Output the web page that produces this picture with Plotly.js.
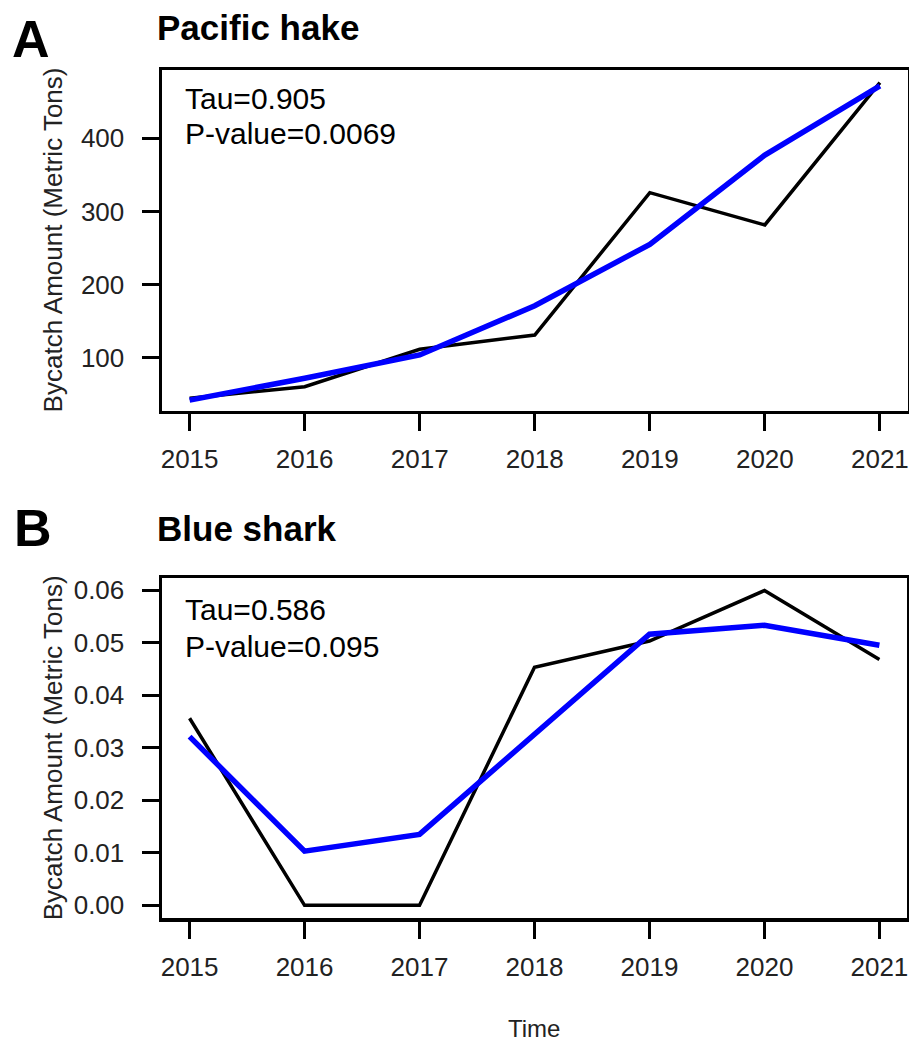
<!DOCTYPE html>
<html>
<head>
<meta charset="utf-8">
<script src="https://cdn.plot.ly/plotly-3.0.1.min.js"></script>
<style>html,body{margin:0;padding:0;background:#fff;}#chart{width:909px;height:1041px;}</style>
</head>
<body>
<div id="chart"></div>
<script>
// ---- data ----
const years = [2015, 2016, 2017, 2018, 2019, 2020, 2021];
const hakeObserved = [44.5, 60.3, 111.5, 131, 325.7, 281.5, 476];
const hakeSmoothed = [42, 71.8, 103.7, 171, 255, 377, 471.7];
const sharkObserved = [0.0356, 0, 0, 0.0453, 0.0503, 0.0599, 0.0468];
const sharkSmoothed = [0.0321, 0.0103, 0.0135, 0.0325, 0.0516, 0.0533, 0.0495];
const hakeYTicks = [100, 200, 300, 400];
const sharkYTicks = [0, 0.01, 0.02, 0.03, 0.04, 0.05, 0.06];
const panelTitles = ["Pacific hake", "Blue shark"];
const panelLetters = ["A", "B"];
const statLines = [["Tau=0.905", "P-value=0.0069"], ["Tau=0.586", "P-value=0.095"]];
const yTitle = "Bycatch Amount (Metric Tons)";
const xTitle = "Time";

// ---- layout helpers ----
const W = 909, H = 1041;
const px = x => x / W;
const py = y => 1 - y / H;
const FONT = "Liberation Sans, Arial, Helvetica, sans-serif";

const traces = [
  {x: years, y: hakeObserved, xaxis: 'x', yaxis: 'y', mode: 'lines', line: {color: '#000', width: 3.5}, hoverinfo: 'skip'},
  {x: years, y: hakeSmoothed, xaxis: 'x', yaxis: 'y', mode: 'lines', line: {color: '#0000ff', width: 5.5}, hoverinfo: 'skip'},
  {x: years, y: sharkObserved, xaxis: 'x2', yaxis: 'y2', mode: 'lines', line: {color: '#000', width: 3.5}, hoverinfo: 'skip'},
  {x: years, y: sharkSmoothed, xaxis: 'x2', yaxis: 'y2', mode: 'lines', line: {color: '#0000ff', width: 5.5}, hoverinfo: 'skip'}
];

const axisCommon = {
  showgrid: false, zeroline: false, showline: true, mirror: true,
  linecolor: '#000', linewidth: 3.5, ticks: 'outside', ticklen: 17,
  tickwidth: 3, tickcolor: '#000', tickfont: {family: FONT, size: 26, color: '#222'},
  ticklabeloverflow: 'allow', fixedrange: true
};

const layout = {
  width: W, height: H,
  margin: {l: 0, r: 0, t: 0, b: 0},
  paper_bgcolor: '#fff', plot_bgcolor: '#fff',
  showlegend: false,
  xaxis: Object.assign({}, axisCommon, {
    domain: [px(162), px(907.5)], range: [2014.76, 2021.24], anchor: 'y',
    tickvals: years, ticktext: years.map(String), ticklabelstandoff: 6
  }),
  yaxis: Object.assign({}, axisCommon, {
    domain: [py(410.7), py(70)], range: [27.5, 493.4], anchor: 'x',
    tickvals: hakeYTicks, ticktext: hakeYTicks.map(String), ticklabelstandoff: 12
  }),
  xaxis2: Object.assign({}, axisCommon, {
    domain: [px(162), px(907)], range: [2014.76, 2021.24], anchor: 'y2',
    tickvals: years, ticktext: years.map(String), ticklabelstandoff: 6
  }),
  yaxis2: Object.assign({}, axisCommon, {
    domain: [py(918.3), py(578.3)], range: [-0.00247, 0.06223], anchor: 'x2',
    tickvals: sharkYTicks, ticktext: sharkYTicks.map(v => v.toFixed(2)), ticklabelstandoff: 12
  }),
  annotations: [
    {text: panelLetters[0], x: px(10), y: py(38.5), xanchor: 'left', yanchor: 'middle', font: {family: FONT, size: 52, color: '#000', weight: 'bold'}},
    {text: panelLetters[1], x: px(12), y: py(528), xanchor: 'left', yanchor: 'middle', font: {family: FONT, size: 52, color: '#000', weight: 'bold'}},
    {text: '<b>' + panelTitles[0] + '</b>', x: px(155), y: py(27.5), xanchor: 'left', yanchor: 'middle', font: {family: FONT, size: 35, color: '#000'}},
    {text: '<b>' + panelTitles[1] + '</b>', x: px(155), y: py(528.6), xanchor: 'left', yanchor: 'middle', font: {family: FONT, size: 35, color: '#000'}},
    {text: statLines[0][0], x: px(183), y: py(98.3), xanchor: 'left', yanchor: 'middle', font: {family: FONT, size: 30, color: '#000'}},
    {text: statLines[0][1], x: px(183), y: py(133.3), xanchor: 'left', yanchor: 'middle', font: {family: FONT, size: 30, color: '#000'}},
    {text: statLines[1][0], x: px(183), y: py(609), xanchor: 'left', yanchor: 'middle', font: {family: FONT, size: 30, color: '#000'}},
    {text: statLines[1][1], x: px(183), y: py(646), xanchor: 'left', yanchor: 'middle', font: {family: FONT, size: 30, color: '#000'}},
    {text: yTitle, x: px(53), y: py(240.4), textangle: -90, xanchor: 'center', yanchor: 'middle', font: {family: FONT, size: 26, color: '#222'}},
    {text: yTitle, x: px(53), y: py(748.3), textangle: -90, xanchor: 'center', yanchor: 'middle', font: {family: FONT, size: 26, color: '#222'}},
    {text: xTitle, x: px(534), y: py(1028.4), xanchor: 'center', yanchor: 'middle', font: {family: FONT, size: 24, color: '#222'}}
  ].map(a => Object.assign({xref: 'paper', yref: 'paper', showarrow: false}, a))
};

Plotly.newPlot('chart', traces, layout, {staticPlot: true, displayModeBar: false});
</script>
</body>
</html>
